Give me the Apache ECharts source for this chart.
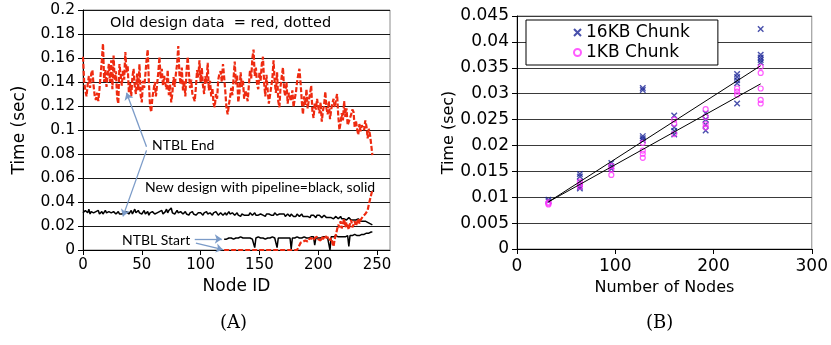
<!DOCTYPE html>
<html>
<head>
<meta charset="utf-8">
<script src="https://cdn.jsdelivr.net/npm/echarts@6/dist/echarts.min.js"></script>
<style>
  html, body { margin: 0; padding: 0; background: #fff; }
  #chart { width: 831px; height: 345px; }
</style>
</head>
<body>
<div id="chart"></div>
<script>
// ---- panel (A): time per node, old vs new design ----
// old design, NTBL End (node 0..246)
var oldEnd = [
  0.161,0.140,0.133,0.128,0.138,0.145,0.135,0.147,0.150,0.137,
  0.128,0.125,0.131,0.124,0.134,0.146,0.158,0.172,0.140,0.150,
  0.136,0.147,0.155,0.140,0.158,0.134,0.162,0.141,0.149,0.127,
  0.122,0.155,0.146,0.137,0.150,0.142,0.165,0.148,0.153,0.131,
  0.139,0.128,0.144,0.151,0.136,0.130,0.147,0.133,0.155,0.129,
  0.123,0.141,0.135,0.146,0.158,0.167,0.140,0.120,0.115,0.127,
  0.133,0.140,0.128,0.138,0.148,0.161,0.143,0.151,0.137,0.145,
  0.139,0.134,0.150,0.129,0.138,0.123,0.131,0.144,0.136,0.147,
  0.155,0.170,0.146,0.138,0.152,0.133,0.141,0.128,0.149,0.161,
  0.148,0.135,0.142,0.130,0.127,0.124,0.136,0.150,0.144,0.158,
  0.140,0.152,0.137,0.130,0.145,0.139,0.156,0.133,0.141,0.128,
  0.135,0.122,0.119,0.130,0.126,0.142,0.147,0.149,0.140,0.155,
  0.144,0.132,0.118,0.113,0.121,0.127,0.135,0.129,0.143,0.157,
  0.138,0.146,0.123,0.131,0.148,0.136,0.141,0.126,0.133,0.129,
  0.124,0.137,0.150,0.143,0.160,0.167,0.145,0.152,0.138,0.134,
  0.148,0.141,0.155,0.161,0.139,0.128,0.146,0.133,0.122,0.121,
  0.136,0.143,0.158,0.140,0.131,0.148,0.124,0.119,0.137,0.145,
  0.152,0.133,0.128,0.140,0.122,0.131,0.127,0.124,0.133,0.119,
  0.126,0.131,0.140,0.146,0.151,0.139,0.124,0.113,0.128,0.121,
  0.134,0.118,0.125,0.130,0.137,0.116,0.110,0.122,0.117,0.126,
  0.119,0.114,0.123,0.107,0.116,0.121,0.132,0.118,0.113,0.124,
  0.109,0.117,0.122,0.126,0.119,0.125,0.130,0.112,0.100,0.106,
  0.114,0.108,0.124,0.111,0.118,0.104,0.107,0.110,0.113,0.117,
  0.115,0.102,0.108,0.101,0.096,0.105,0.099,0.104,0.102,0.100,
  0.108,0.103,0.093,0.101,0.096,0.088,0.079
];
// new design (pipeline), NTBL End (node 0..246)
var newEnd = [
  0.031,0.030,0.033,0.032,0.031,0.034,0.030,0.032,0.033,0.031,
  0.030,0.032,0.031,0.033,0.030,0.031,0.032,0.030,0.031,0.033,
  0.031,0.030,0.032,0.031,0.031,0.030,0.032,0.031,0.030,0.031,
  0.032,0.030,0.031,0.030,0.029,0.031,0.030,0.032,0.031,0.030,
  0.031,0.033,0.030,0.032,0.034,0.031,0.030,0.033,0.031,0.032,
  0.030,0.031,0.033,0.030,0.031,0.032,0.029,0.031,0.030,0.032,
  0.031,0.030,0.029,0.031,0.030,0.032,0.031,0.033,0.030,0.031,
  0.032,0.034,0.031,0.033,0.032,0.035,0.031,0.032,0.030,0.031,
  0.033,0.031,0.030,0.032,0.031,0.030,0.031,0.032,0.030,0.031,
  0.029,0.031,0.030,0.032,0.030,0.031,0.029,0.030,0.031,0.030,
  0.031,0.030,0.029,0.031,0.030,0.032,0.030,0.029,0.031,0.030,
  0.029,0.031,0.030,0.032,0.031,0.029,0.030,0.031,0.030,0.029,
  0.030,0.031,0.029,0.030,0.032,0.030,0.029,0.031,0.030,0.029,
  0.030,0.031,0.029,0.030,0.028,0.030,0.031,0.029,0.030,0.029,
  0.030,0.029,0.031,0.030,0.029,0.030,0.031,0.029,0.030,0.029,
  0.029,0.030,0.031,0.029,0.030,0.028,0.030,0.029,0.030,0.031,
  0.029,0.030,0.029,0.031,0.030,0.029,0.028,0.030,0.029,0.030,
  0.029,0.030,0.028,0.029,0.030,0.029,0.028,0.030,0.029,0.028,
  0.029,0.028,0.030,0.029,0.028,0.029,0.030,0.028,0.029,0.028,
  0.029,0.028,0.029,0.027,0.029,0.028,0.029,0.028,0.027,0.029,
  0.028,0.029,0.028,0.027,0.028,0.029,0.028,0.027,0.028,0.027,
  0.028,0.027,0.028,0.026,0.027,0.028,0.027,0.026,0.027,0.028,
  0.026,0.027,0.026,0.027,0.025,0.026,0.027,0.026,0.025,0.026,
  0.025,0.026,0.025,0.024,0.026,0.025,0.024,0.025,0.024,0.023,
  0.024,0.023,0.023,0.022,0.022,0.021,0.021
];
// NTBL Start series begin at node 120
var startFirstNode = 120;
var oldStart = [
  0,0,0,0,0,0,0,0,0,0,
  0,0,0,0,0,0,0,0,0,0,
  0,0,0,0,0,0,0,0,0,0,
  0,0,0,0,0,0,0,0,0,0,
  0,0,0,0,0,0,0,0,0,0,
  0,0,0,0,0,0,0,0,0,0,
  0,0,0,0.001,0.004,0.006,0.005,0.007,0.006,0.008,
  0.008,0.007,0.009,0.008,0.010,0.009,0.008,0.010,0.009,0.011,
  0.009,0.010,0.008,0.011,0.009,0.010,0.012,0.010,0.009,0.011,
  0.008,0.010,0.006,0.003,0.009,0.013,0.017,0.021,0.019,0.024,
  0.018,0.022,0.026,0.019,0.023,0.020,0.017,0.022,0.025,0.019,
  0.021,0.024,0.020,0.023,0.026,0.022,0.025,0.024,0.028,0.027,
  0.030,0.029,0.033,0.038,0.042,0.046,0.050
];
var newStart = [
  0.009,0.010,0.009,0.010,0.010,0.009,0.010,0.010,0.009,0.010,
  0.010,0.009,0.010,0.010,0.011,0.010,0.010,0.009,0.010,0.010,
  0.010,0.011,0.010,0.010,0.009,0.010,0.002,0.010,0.010,0.011,
  0.010,0.010,0.011,0.010,0.010,0.009,0.010,0.010,0.011,0.010,
  0.010,0.011,0.010,0.010,0.010,0.002,0.010,0.011,0.010,0.010,
  0.010,0.009,0.010,0.011,0.010,0.010,0.010,0.001,0.010,0.009,
  0.010,0.010,0.011,0.010,0.010,0.011,0.010,0.010,0.011,0.010,
  0.010,0.011,0.010,0.010,0.011,0.010,0.011,0.004,0.010,0.011,
  0.010,0.011,0.010,0.011,0.011,0.010,0.011,0.011,0.010,0.011,
  0.000,0.011,0.010,0.011,0.011,0.012,0.011,0.011,0.012,0.011,
  0.012,0.011,0.012,0.011,0.012,0.012,0.003,0.012,0.012,0.012,
  0.012,0.013,0.012,0.012,0.013,0.012,0.013,0.013,0.013,0.013,
  0.013,0.014,0.013,0.014,0.014,0.015,0.015
];

// ---- panel (B): time vs number of nodes ----
var nodeCounts = [32, 64, 96, 128, 160, 192, 224, 248];
var chunk16KB = [
  [0.0095, 0.0092],
  [0.0145, 0.0140, 0.0130, 0.0120, 0.0117],
  [0.0166, 0.0160, 0.0155],
  [0.0311, 0.0307, 0.0218, 0.0214, 0.0210],
  [0.0258, 0.0235, 0.0228, 0.0221],
  [0.0262, 0.0250, 0.0240, 0.0229],
  [0.0338, 0.0332, 0.0326, 0.0320, 0.0281],
  [0.0425, 0.0375, 0.0370, 0.0365, 0.0360]
];
var chunk1KB = [
  [0.0090, 0.0088, 0.0086],
  [0.0130, 0.0125, 0.0120],
  [0.0160, 0.0154, 0.0143],
  [0.0205, 0.0190, 0.0184, 0.0176],
  [0.0250, 0.0242, 0.0222],
  [0.0270, 0.0255, 0.0241, 0.0235],
  [0.0310, 0.0304, 0.0298],
  [0.0352, 0.0340, 0.0310, 0.0288, 0.0281]
];
// linear trend lines as drawn in the figure (end points)
var trend16KB = [[32, 0.0091], [248, 0.0354]];
var trend1KB = [[32, 0.0091], [248, 0.0319]];

function toPairs(values, first) {
  return values.map(function (v, i) { return [first + i, v]; });
}
function scatterPairs(groups) {
  var out = [];
  groups.forEach(function (g, i) {
    g.forEach(function (v) { out.push([nodeCounts[i], v]); });
  });
  return out;
}

var sans = 'DejaVu Sans';
var arrowColor = '#7b9bc8';
var crossPath = 'path://M0,0L10,10M10,0L0,10';
var redDash = { color: '#ee2a10', width: 2.2, type: [5, 2] };

var chart = echarts.init(document.getElementById('chart'), null, { renderer: 'canvas' });

var option = {
  animation: false,
  backgroundColor: '#fff',
  grid: [
    { left: 83, top: 10, width: 307, height: 240, show: true, borderColor: '#8c8c8c', borderWidth: 1, backgroundColor: 'transparent' },
    { left: 517, top: 16, width: 297, height: 233, show: true, borderColor: '#8c8c8c', borderWidth: 1, backgroundColor: 'transparent' }
  ],
  xAxis: [
    {
      gridIndex: 0, type: 'value', min: 0, max: 261, interval: 50,
      name: 'Node ID', nameLocation: 'middle', nameGap: 27,
      nameTextStyle: { color: '#000', fontFamily: sans, fontSize: 17 },
      axisLine: { lineStyle: { color: '#000' } },
      axisTick: { inside: false, length: 5, lineStyle: { color: '#000' } },
      axisLabel: { color: '#000', fontFamily: sans, fontSize: 15, margin: 8, showMaxLabel: false },
      splitLine: { show: false }
    },
    {
      gridIndex: 1, type: 'value', min: 0, max: 300, interval: 100,
      name: 'Number of Nodes', nameLocation: 'middle', nameGap: 28,
      nameTextStyle: { color: '#000', fontFamily: sans, fontSize: 16 },
      axisLine: { lineStyle: { color: '#000' } },
      axisTick: { length: 5, lineStyle: { color: '#000' } },
      axisLabel: { color: '#000', fontFamily: sans, fontSize: 17, margin: 9 },
      splitLine: { show: false }
    }
  ],
  yAxis: [
    {
      gridIndex: 0, type: 'value', min: 0, max: 0.2, interval: 0.02,
      name: 'Time (sec)', nameLocation: 'middle', nameGap: 55, nameRotate: 90,
      nameTextStyle: { color: '#000', fontFamily: sans, fontSize: 17 },
      axisLine: { show: true, lineStyle: { color: '#000' } },
      axisTick: { show: true, length: 5, lineStyle: { color: '#000' } },
      axisLabel: { color: '#000', fontFamily: sans, fontSize: 15.5, margin: 8 },
      splitLine: { show: true, lineStyle: { color: '#1a1a1a', width: 1 } }
    },
    {
      gridIndex: 1, type: 'value', min: 0, max: 0.045, interval: 0.005,
      name: 'Time (sec)', nameLocation: 'middle', nameGap: 57, nameRotate: 90,
      nameTextStyle: { color: '#000', fontFamily: sans, fontSize: 16 },
      axisLine: { show: true, lineStyle: { color: '#000' } },
      axisTick: { show: true, length: 5, lineStyle: { color: '#000' } },
      axisLabel: { color: '#000', fontFamily: sans, fontSize: 17, margin: 8 },
      splitLine: { show: true, lineStyle: { color: '#3a3a3a', width: 1 } }
    }
  ],
  legend: {
    data: ['16KB Chunk', '1KB Chunk'],
    orient: 'vertical',
    left: 526, top: 20,
    padding: [4, 28, 4, 47],
    itemGap: 3,
    itemWidth: 7, itemHeight: 7,
    borderColor: '#000', borderWidth: 1,
    backgroundColor: '#fff',
    textStyle: { color: '#000', fontFamily: sans, fontSize: 17 }
  },
  graphic: [
    { type: 'text', left: 110, top: 16, style: { text: 'Old design data  = red, dotted', font: '14.5px "DejaVu Sans"', fill: '#000' } },
    { type: 'text', left: 152, top: 138, style: { text: 'NTBL End', font: '14px Lato', fill: '#000' } },
    { type: 'text', left: 145, top: 180, style: { text: 'New design with pipeline=black, solid', font: '14px Lato', fill: '#000' } },
    { type: 'text', left: 122, top: 233, style: { text: 'NTBL Start', font: '14px Lato', fill: '#000' } },
    { type: 'text', left: 220, top: 314, style: { text: '(A)', font: '18px "DejaVu Serif"', fill: '#000' } },
    { type: 'text', left: 646, top: 314, style: { text: '(B)', font: '18px "DejaVu Serif"', fill: '#000' } }
  ],
  series: [
    {
      name: 'old end', type: 'line', xAxisIndex: 0, yAxisIndex: 0,
      data: toPairs(oldEnd, 0), showSymbol: false, z: 3,
      lineStyle: redDash
    },
    {
      name: 'old start', type: 'line', xAxisIndex: 0, yAxisIndex: 0,
      data: toPairs(oldStart, startFirstNode), showSymbol: false, z: 5, clip: false,
      lineStyle: redDash
    },
    {
      name: 'new end', type: 'line', xAxisIndex: 0, yAxisIndex: 0,
      data: toPairs(newEnd, 0), showSymbol: false, z: 4,
      lineStyle: { color: '#000', width: 1.5 }
    },
    {
      name: 'new start', type: 'line', xAxisIndex: 0, yAxisIndex: 0,
      data: toPairs(newStart, startFirstNode), showSymbol: false, z: 4,
      lineStyle: { color: '#000', width: 1.5 },
      markLine: {
        silent: true, symbol: ['none', 'arrow'], symbolSize: 7,
        lineStyle: { color: arrowColor, width: 1.3, type: 'solid' },
        label: { show: false },
        data: [
          [{ coord: [54, 0.086] }, { coord: [37, 0.131] }],
          [{ coord: [54, 0.083] }, { coord: [34, 0.028] }],
          [{ coord: [95, 0.0092] }, { coord: [118, 0.0092] }],
          [{ coord: [96, 0.0058] }, { coord: [119, 0.0003] }]
        ]
      }
    },
    {
      name: '16KB Chunk', type: 'scatter', xAxisIndex: 1, yAxisIndex: 1,
      data: scatterPairs(chunk16KB), symbol: crossPath, symbolSize: 5.5, z: 5,
      itemStyle: { color: 'transparent', borderColor: '#1a2496', borderWidth: 1.4 }
    },
    {
      name: '1KB Chunk', type: 'scatter', xAxisIndex: 1, yAxisIndex: 1,
      data: scatterPairs(chunk1KB), symbol: 'circle', symbolSize: 5, z: 5,
      itemStyle: { color: 'transparent', borderColor: '#ff33ff', borderWidth: 1.2 }
    },
    {
      name: 'trend 16KB', type: 'line', xAxisIndex: 1, yAxisIndex: 1,
      data: trend16KB, showSymbol: false, z: 6,
      lineStyle: { color: '#000', width: 1 }
    },
    {
      name: 'trend 1KB', type: 'line', xAxisIndex: 1, yAxisIndex: 1,
      data: trend1KB, showSymbol: false, z: 6,
      lineStyle: { color: '#000', width: 1 }
    }
  ]
};

chart.setOption(option);
</script>
</body>
</html>
